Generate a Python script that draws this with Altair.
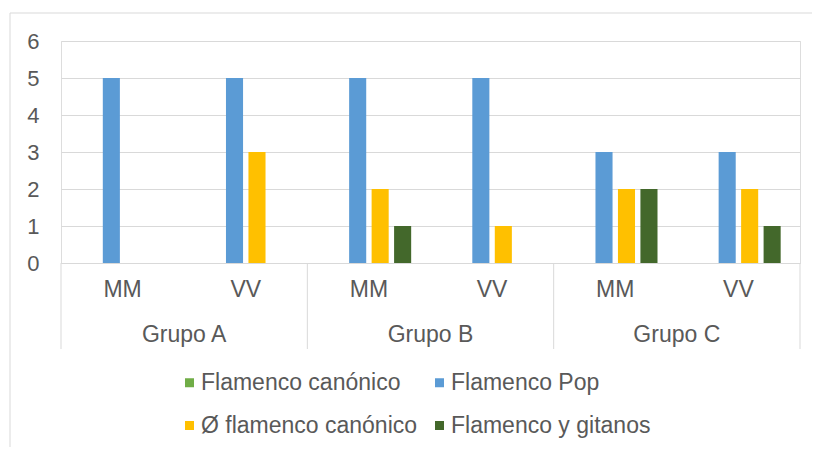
import altair as alt
import pandas as pd

grupos = ["Grupo A", "Grupo A", "Grupo B", "Grupo B", "Grupo C", "Grupo C"]
subgrupos = ["MM", "VV", "MM", "VV", "MM", "VV"]
series = ["Flamenco canónico", "Flamenco Pop", "Ø flamenco canónico", "Flamenco y gitanos"]
colores = ["#70AD47", "#5B9BD5", "#FFC000", "#43682B"]
flamenco_canonico = [0, 0, 0, 0, 0, 0]
flamenco_pop = [5, 5, 5, 5, 3, 3]
no_flamenco_canonico = [0, 3, 2, 1, 2, 2]
flamenco_gitanos = [0, 0, 1, 0, 2, 1]
y_ticks = [0, 1, 2, 3, 4, 5, 6]

keys = [f"{g}|{s}" for g, s in zip(grupos, subgrupos)]
valores = [flamenco_canonico, flamenco_pop, no_flamenco_canonico, flamenco_gitanos]
rows = []
for serie, vals in zip(series, valores):
    for k, g, s, v in zip(keys, grupos, subgrupos, vals):
        rows.append({"key": k, "grupo": g, "sub": s, "serie": serie, "valor": v})
df = pd.DataFrame(rows)

FONT = "Liberation Sans"
TXT = "#595959"
GRID = "#d9d9d9"

xscale = alt.Scale(domain=keys, paddingInner=0, paddingOuter=0)

bars = alt.Chart(df).mark_bar().encode(
    x=alt.X("key:N", scale=xscale, sort=keys, title=None,
            axis=alt.Axis(labelExpr="split(datum.label, '|')[1]", labelAngle=0,
                          ticks=False, domain=True, domainColor=GRID, domainWidth=1,
                          labelFont=FONT, labelFontSize=23, labelColor=TXT,
                          labelPadding=15, labelBaseline="top")),
    xOffset=alt.XOffset("serie:N", sort=series,
                        scale=alt.Scale(domain=series, paddingInner=0.24, paddingOuter=0.86)),
    y=alt.Y("valor:Q", scale=alt.Scale(domain=[0, 6], nice=False), title=None,
            axis=alt.Axis(values=y_ticks, domain=False, ticks=False, gridColor=GRID,
                          gridWidth=1, labelFont=FONT, labelFontSize=22, labelColor=TXT,
                          labelPadding=22)),
    color=alt.Color("serie:N", sort=series,
                    scale=alt.Scale(domain=series, range=colores),
                    legend=alt.Legend(title=None, orient="none", legendX=117, legendY=330,
                                      columns=2, direction="horizontal",
                                      symbolType="square", symbolSize=81,
                                      symbolStrokeWidth=0, labelOffset=0,
                                      labelFont=FONT, labelFontSize=23, labelColor=TXT,
                                      columnPadding=10, rowPadding=19, padding=0,
                                      labelLimit=400)),
)

sep_df = pd.DataFrame({"key": [keys[0], keys[2], keys[4]]})
seps = alt.Chart(sep_df).mark_rule(color=GRID, strokeWidth=1).encode(
    x=alt.X("key:N", scale=xscale, sort=keys, bandPosition=0),
    y=alt.value(222), y2=alt.value(308),
)
sep_end = alt.Chart(pd.DataFrame({"key": [keys[5]]})).mark_rule(color=GRID, strokeWidth=1).encode(
    x=alt.X("key:N", scale=xscale, sort=keys, bandPosition=1),
    y=alt.value(222), y2=alt.value(308),
)

grp_df = pd.DataFrame({"key": [keys[0], keys[2], keys[4]], "grupo": ["Grupo A", "Grupo B", "Grupo C"]})
grp_text = alt.Chart(grp_df).mark_text(font=FONT, fontSize=23, color=TXT, baseline="middle").encode(
    x=alt.X("key:N", scale=xscale, sort=keys, bandPosition=1),
    y=alt.value(294),
    text="grupo:N",
)

border = alt.Chart(alt.Data(values=[{}])).mark_rect(fill=None, stroke=GRID, strokeWidth=1).encode(
    x=alt.value(-51), x2=alt.value(780), y=alt.value(-28), y2=alt.value(430),
)

chart = alt.layer(border, bars, seps, sep_end, grp_text).properties(
    width=739, height=222,
    autosize=alt.AutoSizeParams(type="none"),
    padding={"left": 53, "top": 33, "right": 12, "bottom": 184},
).configure_view(stroke=None).configure(background="white")

chart.save("out.html", embed_options={"renderer": "svg", "actions": False})
